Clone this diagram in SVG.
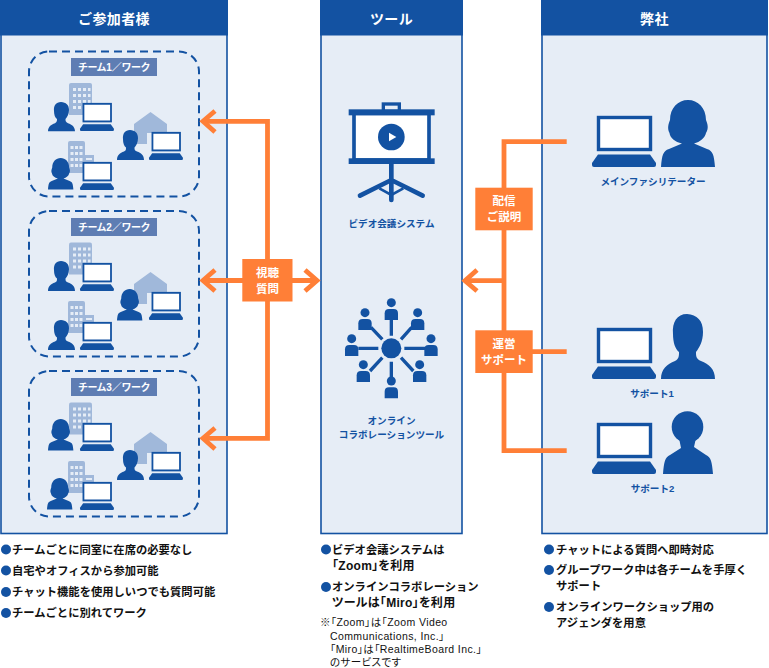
<svg xmlns="http://www.w3.org/2000/svg" xmlns:xlink="http://www.w3.org/1999/xlink" width="769" height="668" viewBox="0 0 769 668">
<style>
text{font-family:"Liberation Sans","Noto Sans CJK JP",sans-serif;font-weight:700}
.panel{fill:#e6edf6;stroke:#1352a2;stroke-width:1.6}
.head{fill:#1352a2}
.ht{fill:#fff;font-size:14px;text-anchor:middle;letter-spacing:.4px}
.team{fill:none;stroke:#1352a2;stroke-width:2;stroke-dasharray:8 5}
.tag{fill:#5e7db3}
.tt{fill:#fff;font-size:10px;text-anchor:middle;font-feature-settings:"palt"}
.cap{fill:#1352a2;font-size:9.6px;text-anchor:middle}
.b{fill:#1352a2}
.li{fill:#111;font-size:11.3px}
.p{font-feature-settings:"palt";font-size:12px;letter-spacing:.3px}
.note{fill:#111;font-size:10.5px;font-weight:400;font-feature-settings:"palt";letter-spacing:.4px}
.o{fill:none;stroke:#ff7f37;stroke-width:4.8}
.obox{fill:#ff7f37}
.ot{fill:#fff;font-size:11.5px;text-anchor:middle}
.ln{stroke:#1352a2;fill:none}
</style>
<defs>
<g id="laptop">
<rect x="6.500" y="1.500" width="52" height="32" fill="#fff" stroke="#1352a2" stroke-width="3.400"/>
<path d="M6 38.500H58L64 47V49Q64 51 62 51H2Q0 51 0 49V47Z" fill="#1352a2"/>
</g>
<path id="woman" fill="#1352a2" d="M0 67C1 55 2 51 8 49L21 43.500C14 42 9 38 8.500 33C6 28 7.500 24 9 20C9 8 17 0 27 0C37 0 45 8 45 20C46.500 24 48 28 45 33C44 38 39 42 33 43.500L46 49C52 51 53 55 54 67Z"/>
<path id="man" fill="#1352a2" d="M0 65C0 55 6 50 14 47C18 45 18 42 18 38C14 35 12 28 12 20C11 8 16 0 26 0C36 1 42 6 42 18C42 28 38 34 35 38C35 42 35 45 40 47C48 50 54 55 54 65Z"/>
<g id="bldgA">
<path d="M2 0H21Q23 0 23 2V32H0V2Q0 0 2 0Z" fill="#a0b8da"/>
<path d="M4 5h3v3h-3zM9 5h3v3h-3zM14 5h3v3h-3zM19 5h2.500v3h-2.500zM4 11h3v3h-3zM9 11h3v3h-3zM14 11h3v3h-3zM19 11h2.500v3h-2.500zM4 17h3v3h-3zM9 17h3v3h-3zM14 17h3v3h-3zM19 17h2.500v3h-2.500zM4 23h3v3h-3zM9 23h3v3h-3z" fill="#e6edf6"/>
</g>
<g id="bldgB">
<path d="M2 0H15Q17 0 17 2V32H0V2Q0 0 2 0Z" fill="#a0b8da"/>
<rect x="16" y="14" width="10" height="18" fill="#a0b8da"/>
<path d="M2.500 5h3v3h-3zM7 5h3v3h-3zM11.500 5h3v3h-3zM2.500 11h3v3h-3zM7 11h3v3h-3zM11.500 11h3v3h-3zM2.500 17h3v3h-3zM7 17h3v3h-3zM11.500 17h3v3h-3zM2.500 23h3v3h-3zM7 23h3v3h-3zM11.500 23h3v3h-3zM18 17h6v2h-6zM18 21h6v2h-6z" fill="#e6edf6"/>
</g>
<path id="house" fill="#a0b8da" d="M0 12L16.500 0L33 12V21H13V32H0Z"/>
<g id="netp">
<circle cx="0" cy="0" r="13.500" fill="#1352a2"/>
<path d="M-20 52V32Q-20 19 -7 19H7Q20 19 20 32V52Z" fill="#1352a2"/>
</g>
</defs>

<g id="panel-sankasha">
<rect class="panel" x="1" y="1" width="226" height="532.500"/>
<rect class="head" x="0" y="0" width="228" height="35.500"/>
<text class="ht" x="114" y="24">ご参加者様</text>
</g>
<g id="panel-tool">
<rect class="panel" x="321" y="1" width="141" height="532.500"/>
<rect class="head" x="320" y="0" width="143" height="35.500"/>
<text class="ht" x="391.500" y="24">ツール</text>
</g>
<g id="panel-heisha">
<rect class="panel" x="542" y="1" width="225" height="532.500"/>
<rect class="head" x="541" y="0" width="227" height="35.500"/>
<text class="ht" x="654.500" y="24">弊社</text>
</g>

<g id="team1">
<rect class="team" x="29" y="51.500" width="170" height="145" rx="20"/>
<rect class="tag" x="71" y="58" width="86" height="18"/>
<text class="tt" x="114" y="70.500">チーム1／ワーク</text>
<use href="#bldgA" x="69" y="83"/>
<use href="#man" transform="translate(48 102) scale(.5 .45)"/>
<use href="#laptop" transform="translate(80 103) scale(.53 .55)"/>
<use href="#house" x="134" y="112"/>
<use href="#man" transform="translate(117 130) scale(.5 .46)"/>
<use href="#laptop" transform="translate(149 132) scale(.53 .55)"/>
<use href="#bldgB" x="68" y="141"/>
<use href="#woman" transform="translate(48 158) scale(.47 .47)"/>
<use href="#laptop" transform="translate(80 162) scale(.53 .55)"/>
</g>
<g id="team2">
<rect class="team" x="29" y="211" width="170" height="145.500" rx="20"/>
<rect class="tag" x="71" y="218" width="86" height="18"/>
<text class="tt" x="114" y="230.500">チーム2／ワーク</text>
<use href="#bldgA" x="69" y="242.500"/>
<use href="#man" transform="translate(48 261) scale(.5 .46)"/>
<use href="#laptop" transform="translate(80 263) scale(.53 .55)"/>
<use href="#house" x="134" y="272"/>
<use href="#woman" transform="translate(117 289) scale(.47 .47)"/>
<use href="#laptop" transform="translate(149 292) scale(.53 .55)"/>
<use href="#bldgB" x="68" y="301"/>
<use href="#man" transform="translate(48 320) scale(.5 .46)"/>
<use href="#laptop" transform="translate(80 322) scale(.53 .55)"/>
</g>
<g id="team3">
<rect class="team" x="29" y="371" width="170" height="145.500" rx="20"/>
<rect class="tag" x="71" y="378" width="86" height="18"/>
<text class="tt" x="114" y="390.500">チーム3／ワーク</text>
<use href="#bldgA" x="69" y="402.500"/>
<use href="#woman" transform="translate(48 419) scale(.47 .47)"/>
<use href="#laptop" transform="translate(80 423) scale(.53 .55)"/>
<use href="#house" x="134" y="432"/>
<use href="#man" transform="translate(117 450) scale(.5 .46)"/>
<use href="#laptop" transform="translate(149 452) scale(.53 .55)"/>
<use href="#bldgB" x="68" y="461"/>
<use href="#woman" transform="translate(47 478) scale(.47 .47)"/>
<use href="#laptop" transform="translate(80 482) scale(.53 .55)"/>
</g>

<g id="video-system">
<g transform="translate(320 80) scale(.33333)">
<rect x="190" y="72" width="48" height="22" fill="none" stroke="#1352a2" stroke-width="10"/>
<rect x="102" y="100" width="225" height="140" fill="#fff" stroke="#1352a2" stroke-width="11"/>
<rect x="86" y="88" width="258" height="18" fill="#1352a2"/>
<rect x="86" y="235" width="258" height="17" fill="#1352a2"/>
<circle cx="214" cy="171" r="40" fill="#1352a2"/>
<path d="M207 158L229 171L207 184Z" fill="#fff"/>
<path class="ln" d="M214 250V360M120 347L214 300L308 347" stroke-width="14" stroke-linecap="round"/>
<path class="ln" d="M178 325L214 345L250 325" stroke-width="8"/>
</g>
<text class="cap" x="391.500" y="227">ビデオ会議システム</text>
</g>
<g id="collab-tool">
<g transform="translate(320 290) scale(.33333)">
<circle cx="214" cy="175" r="30" fill="#1352a2"/>
<path class="ln" stroke-width="10" d="M214 90V137M153 112L187 148M275 112L243 148M115 175H175M253 175H315M150 243L187 203M280 243L243 203M214 215V262"/>
<use href="#netp" x="214" y="38"/>
<use href="#netp" x="135" y="68"/>
<use href="#netp" x="293" y="68"/>
<use href="#netp" x="95" y="146"/>
<use href="#netp" x="333" y="146"/>
<use href="#netp" x="130" y="224"/>
<use href="#netp" x="299" y="224"/>
<use href="#netp" x="214" y="273"/>
</g>
<text class="cap" x="391.500" y="424">オンライン</text>
<text class="cap" x="391.500" y="438">コラボレーションツール</text>
</g>

<g id="main-facilitator">
<use href="#laptop" x="592" y="116"/>
<use href="#woman" x="661" y="100"/>
<text class="cap" x="653" y="184.500">メインファシリテーター</text>
</g>
<g id="support1">
<use href="#laptop" x="592" y="328"/>
<use href="#man" x="661" y="314"/>
<text class="cap" x="652" y="397">サポート1</text>
</g>
<g id="support2">
<use href="#laptop" x="592" y="423"/>
<g fill="#1352a2"><circle cx="687.500" cy="427" r="15.800"/><path d="M663 474C664 462 665 457 670 455L681 448L679 438H696L694 447L706 455C711 457 712 462 713 474Z"/></g>
<text class="cap" x="652.500" y="492">サポート2</text>
</g>

<g id="connectors">
<path class="o" d="M203 121.300H267.500V438.300H203"/>
<path class="o" d="M203 280.500H317"/>
<path class="o" d="M215 111L203 121.300L215 132M215 270L203 280.500L215 291M215 428L203 438.300L215 449M305 270L317 280.500L305 291"/>
<path class="o" d="M566.700 141.700H504V450.700H566.700M504 351.700H566.700M504 280.700H465"/>
<path class="o" d="M477 270L465 280.700L477 291"/>
</g>
<g id="label-shichou">
<rect class="obox" x="242.300" y="259" width="50.200" height="42.500"/>
<text class="ot" x="267.500" y="277">視聴</text>
<text class="ot" x="267.500" y="293">質問</text>
</g>
<g id="label-haishin">
<rect class="obox" x="475.300" y="187.700" width="57.400" height="42.600"/>
<text class="ot" x="504" y="205">配信</text>
<text class="ot" x="504" y="221">ご説明</text>
</g>
<g id="label-unei">
<rect class="obox" x="475.300" y="330.300" width="57.400" height="42.700"/>
<text class="ot" x="504" y="348">運営</text>
<text class="ot" x="504" y="364">サポート</text>
</g>

<g id="notes-left">
<circle class="b" cx="6" cy="549.500" r="5"/><text class="li" x="12" y="553.500">チームごとに同室に在席の必要なし</text>
<circle class="b" cx="6" cy="570.500" r="5"/><text class="li" x="12" y="574.500">自宅やオフィスから参加可能</text>
<circle class="b" cx="6" cy="592" r="5"/><text class="li" x="12" y="596">チャット機能を使用しいつでも質問可能</text>
<circle class="b" cx="6" cy="613" r="5"/><text class="li" x="12" y="617">チームごとに別れてワーク</text>
</g>
<g id="notes-center">
<circle class="b" cx="326" cy="549.500" r="5"/><text class="li" x="332" y="553.500">ビデオ会議システムは</text>
<text class="li p" x="332" y="570">「Zoom」を利用</text>
<circle class="b" cx="326" cy="587" r="5"/><text class="li" x="332" y="591">オンラインコラボレーション</text>
<text class="li p" x="332" y="607">ツールは「Miro」を利用</text>
<text class="note" x="320" y="626">※「Zoom」は「Zoom Video</text>
<text class="note" x="330" y="639.500">Communications, Inc.」</text>
<text class="note" x="330" y="653">「Miro」は「RealtimeBoard Inc.」</text>
<text class="note" x="330" y="665.500">のサービスです</text>
</g>
<g id="notes-right">
<circle class="b" cx="549" cy="549.500" r="5"/><text class="li" x="556" y="553.500">チャットによる質問へ即時対応</text>
<circle class="b" cx="549" cy="570" r="5"/><text class="li" x="556" y="574">グループワーク中は各チームを手厚く</text>
<text class="li" x="556" y="590">サポート</text>
<circle class="b" cx="549" cy="607" r="5"/><text class="li" x="556" y="611">オンラインワークショップ用の</text>
<text class="li" x="556" y="627">アジェンダを用意</text>
</g>
</svg>
